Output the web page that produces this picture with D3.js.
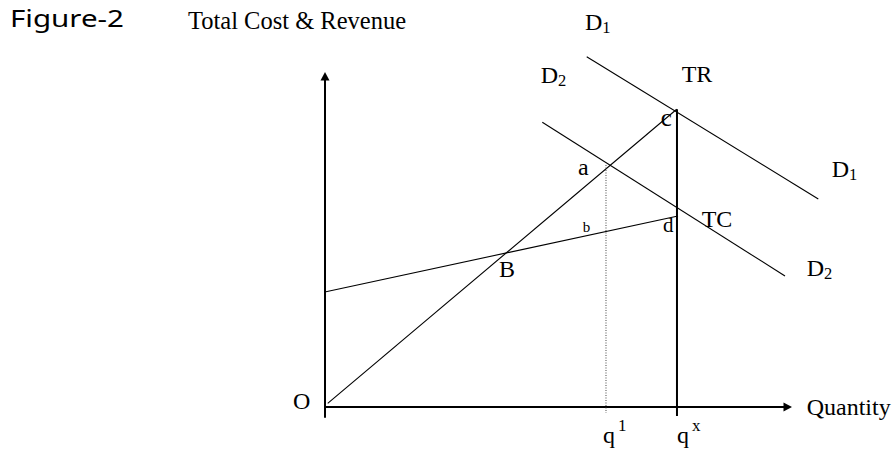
<!DOCTYPE html>
<html lang="en">
<head>
    <meta charset="UTF-8">
    <title>Figure-2 Total Cost & Revenue</title>
    <script src="https://d3js.org/d3.v7.min.js"></script>
    <style>
        body { margin: 0; background: #fff; }
        svg text { font-family: "Times New Roman", "Liberation Serif", serif; fill: #000; }
    </style>
</head>
<body>
<svg width="893" height="453"></svg>
<script>
    // Straight lines of the diagram, in diagram units [x1, y1, x2, y2]
    const trLine = [0.58, 1.10, 75.31, 88.87];
    const tcLine = [0.21, 34.42, 75.59, 57.01];
    const d1Line = [56.04, 104.57, 105.63, 62.09];
    const d2Line = [46.53, 84.99, 98.50, 39.10];

    // Quantity markers on the x axis, and how high each vertical reaches
    const qMarks = ["q1", "qx"];
    const qValues = [60.17, 75.37];
    const qTops = [72.24, 88.87];
    const qBottoms = [-1.79, -2.69];

    // Point labels: text, anchor x, anchor y (diagram units)
    const labelText = ["O", "B", "a", "b", "c", "d", "TR", "TC", "D", "D", "D", "D"];
    const labelSub = ["", "", "", "", "", "", "", "", "1", "1", "2", "2"];
    const labelX = [-6.85, 37.26, 54.18, 55.18, 71.88, 72.38, 76.38, 80.66, 55.67, 108.50, 46.19, 103.15];
    const labelY = [-0.60, 38.90, 69.25, 52.33, 83.88, 52.24, 97.10, 53.64, 112.54, 68.75, 96.72, 39.19];
    const labelSize = [24, 24, 24, 15, 25, 21, 24, 24, 24, 24, 24, 24];

    const qLabelX = [59.53, 75.37];
    const qLabelY = -10.75;
    const qSup = ["1", "x"];

    const svg = d3.select("svg");
    const x = d3.scaleLinear().domain([0, 100]).range([325, 792]);
    const y = d3.scaleLinear().domain([0, 100]).range([407, 72]);

    // Headings
    svg.append("text")
        .attr("x", 10).attr("y", 27)
        .style("font-family", "'Noto Sans', 'DejaVu Sans', sans-serif")
        .style("font-size", "24px")
        .attr("textLength", 114)
        .attr("lengthAdjust", "spacingAndGlyphs")
        .text("Figure-2");
    svg.append("text")
        .attr("x", 188).attr("y", 29)
        .style("font-size", "24.5px")
        .text("Total Cost & Revenue");

    // Axes with arrowheads
    svg.append("line")
        .attr("x1", x(0)).attr("y1", y(-3.2))
        .attr("x2", x(0)).attr("y2", y(100) + 7)
        .attr("stroke", "#000").attr("stroke-width", 2);
    svg.append("line")
        .attr("x1", x(0)).attr("y1", y(0))
        .attr("x2", x(100) - 7).attr("y2", y(0))
        .attr("stroke", "#000").attr("stroke-width", 2);
    svg.append("path")
        .attr("d", `M${x(0)},${y(100)} l-4.5,8.5 h9 z`)
        .attr("fill", "#000");
    svg.append("path")
        .attr("d", `M${x(100)},${y(0)} l-8.5,-4.5 v9 z`)
        .attr("fill", "#000");

    // TR, TC and the two demand lines
    svg.selectAll(".seg")
        .data([trLine, tcLine, d1Line, d2Line])
        .enter()
        .append("line")
        .attr("class", "seg")
        .attr("x1", d => x(d[0])).attr("y1", d => y(d[1]))
        .attr("x2", d => x(d[2])).attr("y2", d => y(d[3]))
        .attr("stroke", "#000").attr("stroke-width", 1.1);

    // q1 dotted guide and qx solid vertical
    qMarks.forEach((m, i) => {
        svg.append("line")
            .attr("x1", x(qValues[i])).attr("y1", y(qTops[i]))
            .attr("x2", x(qValues[i])).attr("y2", y(qBottoms[i]))
            .attr("stroke", m === "q1" ? "#444" : "#000")
            .attr("stroke-width", m === "q1" ? 1 : 2)
            .attr("stroke-dasharray", m === "q1" ? "1,1.5" : null);
    });

    // Point and curve labels
    labelText.forEach((t, i) => {
        const txt = svg.append("text")
            .attr("x", x(labelX[i])).attr("y", y(labelY[i]))
            .style("font-size", labelSize[i] + "px")
            .text(t);
        if (labelSub[i]) {
            txt.append("tspan")
                .attr("dy", 3)
                .style("font-size", "16.5px")
                .text(labelSub[i]);
        }
    });

    // q labels with superscripts
    qSup.forEach((s, i) => {
        const txt = svg.append("text")
            .attr("x", x(qLabelX[i])).attr("y", y(qLabelY))
            .style("font-size", "24px")
            .text("q");
        txt.append("tspan")
            .attr("dx", 3).attr("dy", -12)
            .style("font-size", "17px")
            .text(s);
    });

    // Axis title
    svg.append("text")
        .attr("x", x(103.15)).attr("y", y(-2.39))
        .style("font-size", "24px")
        .text("Quantity");
</script>
</body>
</html>
